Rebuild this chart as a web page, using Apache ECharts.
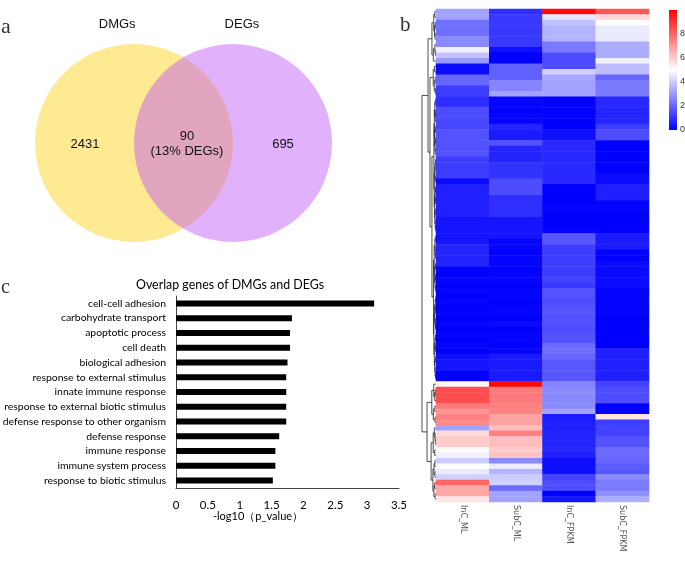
<!DOCTYPE html>
<html><head><meta charset="utf-8">
<script src="https://cdn.jsdelivr.net/npm/echarts@6/dist/echarts.min.js"></script>
<style>html,body{margin:0;padding:0;background:#fff}#c{width:685px;height:561px}</style>
</head><body><div id="c"></div>
<script>
// ---------- DATA ----------
// Venn
const vennSets = ['DMGs', 'DEGs'];
const vennCounts = [2431, 90, 695]; // DMGs only, overlap, DEGs only

// GO enrichment bar chart
const goTitle = 'Overlap genes of DMGs and DEGs';
const goAxisName = '-log10（p_value）';
const goTerms = ['cell-cell adhesion','carbohydrate transport','apoptotic process','cell death','biological adhesion','response to external stimulus','innate immune response','response to external biotic stimulus','defense response to other organism','defense response','immune response','immune system process','response to biotic stimulus'];
const goValues = [3.11, 1.82, 1.79, 1.79, 1.75, 1.73, 1.73, 1.73, 1.73, 1.62, 1.56, 1.56, 1.52];
const goXMin = 0, goXMax = 3.5, goXStep = 0.5;

// Heatmap (90 overlap genes x 4 samples)
const hmSamples = ['InC_ML','SubC_ML','InC_FPKM','SubC_FPKM'];
const hmInC_ML = [3.2,3.2,2.2,2.2,2.2,2.7,2.7,4.7,3.8,3.0, 0.2,0.2,2.0,2.0,1.2,1.2,0.9,0.9,1.5,1.5, 1.4,1.4,1.6,1.6,1.6,1.6,1.6,1.2,1.2,1.2, 1.2,0.2,0.6,0.6,0.6,0.6,0.6,0.6,0.4,0.4, 0.4,0.4,0.4,0.7,0.7,0.7,0.7,0.1,0.0,0.1, 0.0,0.1,0.0,0.1,0.0,0.1,0.0,0.1,0.0,0.1, 0.0,0.1,0.0,0.3,0.4,0.4,0.0,0.0,5.2,8.5, 8.5,8.5,7.6,7.1,7.5,7.3,3.2,5.7,6.0,6.0, 5.1,4.7,4.0,5.0,4.6,4.1,8.0,6.7,6.7,5.5];
const hmSubC_ML = [0.9,1.1,1.1,1.1,1.1,1.1,1.1,0.3,0.0,0.0, 1.9,1.9,1.9,2.6,2.6,3.2,0.1,0.1,0.0,0.1, 0.1,0.7,0.5,0.5,1.6,0.7,0.7,0.7,1.0,1.0, 1.0,1.5,1.5,1.5,0.9,0.9,0.9,0.9,0.4,0.4, 0.4,0.4,0.1,0.1,0.0,0.1,0.1,0.0,0.1,0.1, 0.0,0.1,0.1,0.0,0.1,0.1,0.0,0.2,0.0,0.1, 0.1,0.0,0.1,0.5,0.5,0.5,0.5,0.5,9.8,7.6, 7.6,7.6,7.5,7.4,6.8,6.8,6.3,7.5,6.3,6.3, 6.0,6.2,2.7,4.6,3.5,4.0,4.1,2.1,3.2,3.2];
const hmInC_FPKM = [9.8,4.5,3.8,3.5,3.5,3.5,2.4,2.4,1.5,1.5, 1.5,4.1,3.3,3.2,3.2,3.2,0.0,0.0,0.0,0.0, 0.0,0.0,0.3,0.3,0.8,0.8,0.8,0.8,0.8,0.8, 0.8,0.8,0.0,0.0,0.0,0.0,0.1,0.0,0.0,0.0, 0.1,1.7,1.7,1.2,1.2,1.2,1.2,1.2,1.2,1.3, 1.1,1.6,1.6,1.5,1.6,1.7,1.6,1.6,1.5,1.6, 1.6,2.1,2.2,2.0,1.7,1.7,1.7,1.7,2.6,2.7, 2.7,2.7,2.7,3.2,0.5,0.6,0.6,0.7,0.7,0.7, 0.8,0.6,0.3,0.3,0.3,1.3,1.5,1.5,0.0,0.4];
const hmSubC_FPKM = [8.3,5.8,5.0,4.6,4.6,4.6,3.4,3.4,3.4,4.7, 3.7,3.7,2.0,2.4,2.4,2.4,0.8,0.8,0.7,0.7, 0.7,1.2,1.5,1.5,0.0,0.0,0.0,0.0,0.0,0.0, 0.2,0.2,0.6,0.6,0.6,0.05,0.05,0.0,0.0,0.0, 0.0,0.5,0.5,0.5,0.0,0.0,0.2,0.2,0.2,0.2, 0.2,0.05,0.05,0.05,0.1,0.05,0.0,0.0,0.0,0.0, 0.0,0.0,0.6,0.6,0.6,0.6,0.6,0.6,1.3,1.5, 1.5,1.5,0.0,0.0,5.5,1.2,1.3,1.3,1.6,1.6, 2.1,2.1,2.0,1.8,1.7,2.7,2.4,2.4,2.8,3.4];
const colorbarMin = 0, colorbarMax = 10, colorbarStep = 2;

// Row dendrogram: node = [height, left, right], leaf = row index
const dendroTree = [10,
  [5.7,
    [2.9, [1.6, [0.9, 0, 1], [1.1, [0.5, 2, 3], [0.7, 4, 5]]], [1.9, [0.8, 6, [0.4, 7, 8]], 9]],
    [4.3,
      [2.0, [1.0, 10, 11], [1.2, [0.6, 12, 13], [0.5, 14, 15]]],
      [2.9,
        [1.5,
          [1.2, [0.9, [0.5, 16, 17], [0.6, [0.3, 18, 19], 20]], [1.0, [0.4, 21, 22], [0.7, [0.3, 23, 24], [0.5, 25, 26]]]],
          [1.3, [0.9, [0.6, [0.3, 27, 28], 29], [0.5, 30, 31]], [1.1, [0.7, [0.4, 32, 33], [0.3, 34, 35]], [0.8, [0.5, 36, 37], [0.6, 38, [0.3, 39, 40]]]]]
        ],
        [1.8,
          [1.3, [0.8, [0.5, 41, 42], [0.6, 43, [0.3, 44, 45]]], [1.0, [0.4, 46, 47], [0.7, [0.3, 48, 49], [0.4, 50, 51]]]],
          [1.5, [1.0, [0.6, [0.2, 52, 53], [0.3, 54, 55]], [0.5, 56, [0.3, 57, 58]]], [1.2, [0.7, [0.4, 59, 60], [0.3, 61, 62]], [0.9, [0.5, 63, 64], [0.6, 65, [0.4, 66, 67]]]]]
        ]
      ]
    ]
  ],
  [6.4,
    [3.0, [1.6, 68, [0.9, [0.5, 69, 70], 71]], [1.9, [0.8, 72, 73], [0.7, 74, 75]]],
    [3.5,
      [2.0, [1.2, 76, [0.6, 77, [0.4, 78, 79]]], [0.9, 80, 81]],
      [2.2, [1.4, [0.8, 82, 83], [0.7, 84, 85]], [1.5, [0.9, 86, 87], [0.6, 88, 89]]]
    ]
  ]
];

// ---------- LAYOUT / BUILD ----------
const VENN_CX = [1, 2], VENN_CY = 1, VENN_R = 1;
const VENN_NAME_X = [0.83, 2.09], VENN_NAME_Y = 2.2;
const VENN_LABEL_X = [0.505, 1.535, 2.505];
const pct = Math.round(vennCounts[1] / vennCounts[2] * 100);
const vennLabelTexts = [String(vennCounts[0]), vennCounts[1] + '\n(' + pct + '% ' + vennSets[1] + ')', String(vennCounts[2])];

const hmCols = [hmInC_ML, hmSubC_ML, hmInC_FPKM, hmSubC_FPKM];
const nRows = hmInC_ML.length;
const rowNames = Array.from({length: nRows}, (_, i) => 'gene' + (i + 1));
const hmData = [];
hmCols.forEach((col, c) => col.forEach((v, r) => hmData.push([c, r, v])));

const segs = [];
function walk(n) {
  if (typeof n === 'number') return {y: n, h: 0};
  const A = walk(n[1]), B = walk(n[2]), h = n[0];
  segs.push([A.h, A.y, h, A.y]);
  segs.push([B.h, B.y, h, B.y]);
  segs.push([h, A.y, h, B.y]);
  return {y: (A.y + B.y) / 2, h: h};
}
walk(dendroTree);
const treeMax = dendroTree[0];

const chart = echarts.init(document.getElementById('c'), null, {renderer: 'canvas'});
const serif = 'Liberation Serif';
const sans = 'Liberation Sans';
const calib = 'Lato';

const hidden = {show: false};
const g = (o) => Object.assign({outerBoundsMode: 'none', containLabel: false}, o);
chart.setOption({
  animation: false,
  backgroundColor: '#fff',
  grid: [
    g({left: 35, top: 44, width: 297, height: 198}),
    g({left: 422, top: 9, width: 14, height: 493}),
    g({left: 436, top: 9, width: 213, height: 493}),
    g({left: 176, top: 296, width: 223, height: 192}),
    g({left: 669, top: 10, width: 8, height: 120})
  ],
  xAxis: [
    {gridIndex: 0, type: 'value', min: 0, max: 3, show: false},
    {gridIndex: 1, type: 'value', min: 0, max: treeMax, inverse: true, show: false},
    {gridIndex: 2, type: 'category', data: hmSamples, axisLine: hidden, axisTick: hidden,
      axisLabel: {rotate: -90, fontSize: 8, color: '#555', margin: 3, fontFamily: 'DejaVu Sans'}},
    {gridIndex: 3, type: 'value', min: goXMin, max: goXMax, interval: goXStep,
      axisLine: {show: true, lineStyle: {color: '#444', width: 1}}, axisTick: hidden, splitLine: hidden,
      axisLabel: {fontSize: 11.5, color: '#000', margin: 11, fontFamily: calib}},
    {gridIndex: 4, type: 'category', data: ['cb'], show: false}
  ],
  yAxis: [
    {gridIndex: 0, type: 'value', min: 0, max: 2, show: false},
    {gridIndex: 1, type: 'value', min: -0.5, max: nRows - 0.5, inverse: true, show: false},
    {gridIndex: 2, type: 'category', data: rowNames, inverse: true, show: false},
    {gridIndex: 3, type: 'category', data: goTerms, inverse: true,
      axisLine: {show: true, lineStyle: {color: '#444', width: 1}}, axisTick: hidden,
      axisLabel: {interval: 0, fontSize: 10.4, color: '#000', margin: 10, fontFamily: calib}},
    {gridIndex: 4, type: 'value', min: colorbarMin, max: colorbarMax, interval: colorbarStep, position: 'right',
      axisLine: hidden, axisTick: hidden, splitLine: hidden,
      axisLabel: {fontSize: 9, color: '#333', margin: 3, showMaxLabel: false, fontFamily: sans}}
  ],
  visualMap: {
    type: 'continuous', show: false, seriesIndex: 3, dimension: 2,
    min: colorbarMin, max: colorbarMax,
    inRange: {color: ['#0000ff', '#ffffff', '#ff0000']}
  },
  graphic: [
    {type: 'text', x: 1, y: 16, style: {text: 'a', font: '22px ' + serif, fill: '#333', verticalAlign: 'alphabetic'}},
    {type: 'text', x: 400, y: 15, style: {text: 'b', font: '21px ' + serif, fill: '#333', verticalAlign: 'alphabetic'}},
    {type: 'text', x: 1, y: 278, style: {text: 'c', font: '20px ' + serif, fill: '#333', verticalAlign: 'alphabetic'}},
    {type: 'text', x: 230, y: 285, style: {text: goTitle, font: '12.4px ' + calib, fill: '#000', align: 'center', verticalAlign: 'middle'}},
    {type: 'text', x: 258, y: 516, style: {text: goAxisName, font: '11px ' + calib, fill: '#000', align: 'center', verticalAlign: 'middle'}}
  ],
  series: [
    {
      type: 'custom', xAxisIndex: 0, yAxisIndex: 0, silent: true,
      data: vennSets.map((s, i) => [i]),
      renderItem: function (params, api) {
        const i = api.value(0);
        const c = api.coord([VENN_CX[i], VENN_CY]);
        const r = api.size([VENN_R, 0])[0];
        const nm = api.coord([VENN_NAME_X[i], VENN_NAME_Y]);
        return {type: 'group', children: [
          {type: 'circle', shape: {cx: c[0], cy: c[1], r: r},
            style: {fill: i === 0 ? '#feea93' : 'rgba(188,77,248,0.44)'}},
          {type: 'text', x: nm[0], y: nm[1], style: {text: vennSets[i], font: '13px ' + sans, fill: '#111', align: 'center', verticalAlign: 'middle'}}
        ]};
      }
    },
    {
      type: 'custom', xAxisIndex: 0, yAxisIndex: 0, silent: true,
      data: vennCounts.map((v, i) => [i, v]),
      renderItem: function (params, api) {
        const i = api.value(0);
        const p = api.coord([VENN_LABEL_X[i], VENN_CY]);
        return {type: 'text', x: p[0], y: p[1] + 1, style: {text: vennLabelTexts[i], font: '13px ' + sans, lineHeight: 15, fill: '#111', align: 'center', verticalAlign: 'middle'}};
      }
    },
    {
      type: 'custom', xAxisIndex: 1, yAxisIndex: 1, silent: true,
      data: segs,
      encode: {x: [0, 2], y: [1, 3]},
      renderItem: function (params, api) {
        const a = api.coord([api.value(0), api.value(1)]);
        const b = api.coord([api.value(2), api.value(3)]);
        return {type: 'line', shape: {x1: a[0], y1: a[1], x2: b[0], y2: b[1]},
          style: {stroke: '#222', lineWidth: 0.8}};
      }
    },
    {
      type: 'heatmap', xAxisIndex: 2, yAxisIndex: 2, data: hmData, silent: true,
      itemStyle: {borderWidth: 0}
    },
    {
      type: 'bar', xAxisIndex: 3, yAxisIndex: 3, data: goValues, barWidth: 6, silent: true,
      itemStyle: {color: '#000'}
    },
    {
      type: 'custom', xAxisIndex: 4, yAxisIndex: 4, silent: true,
      data: [['cb', colorbarMax]],
      renderItem: function (params, api) {
        const top = api.coord(['cb', colorbarMax]);
        const bot = api.coord(['cb', colorbarMin]);
        const w = api.size(['cb', 0])[0];
        return {type: 'rect', shape: {x: top[0] - w / 2, y: top[1], width: w, height: bot[1] - top[1]},
          style: {fill: new echarts.graphic.LinearGradient(0, 0, 0, 1, [
            {offset: 0, color: '#ff0000'}, {offset: 0.5, color: '#ffffff'}, {offset: 1, color: '#0000ff'}])}};
      }
    }
  ]
});
</script></body></html>
